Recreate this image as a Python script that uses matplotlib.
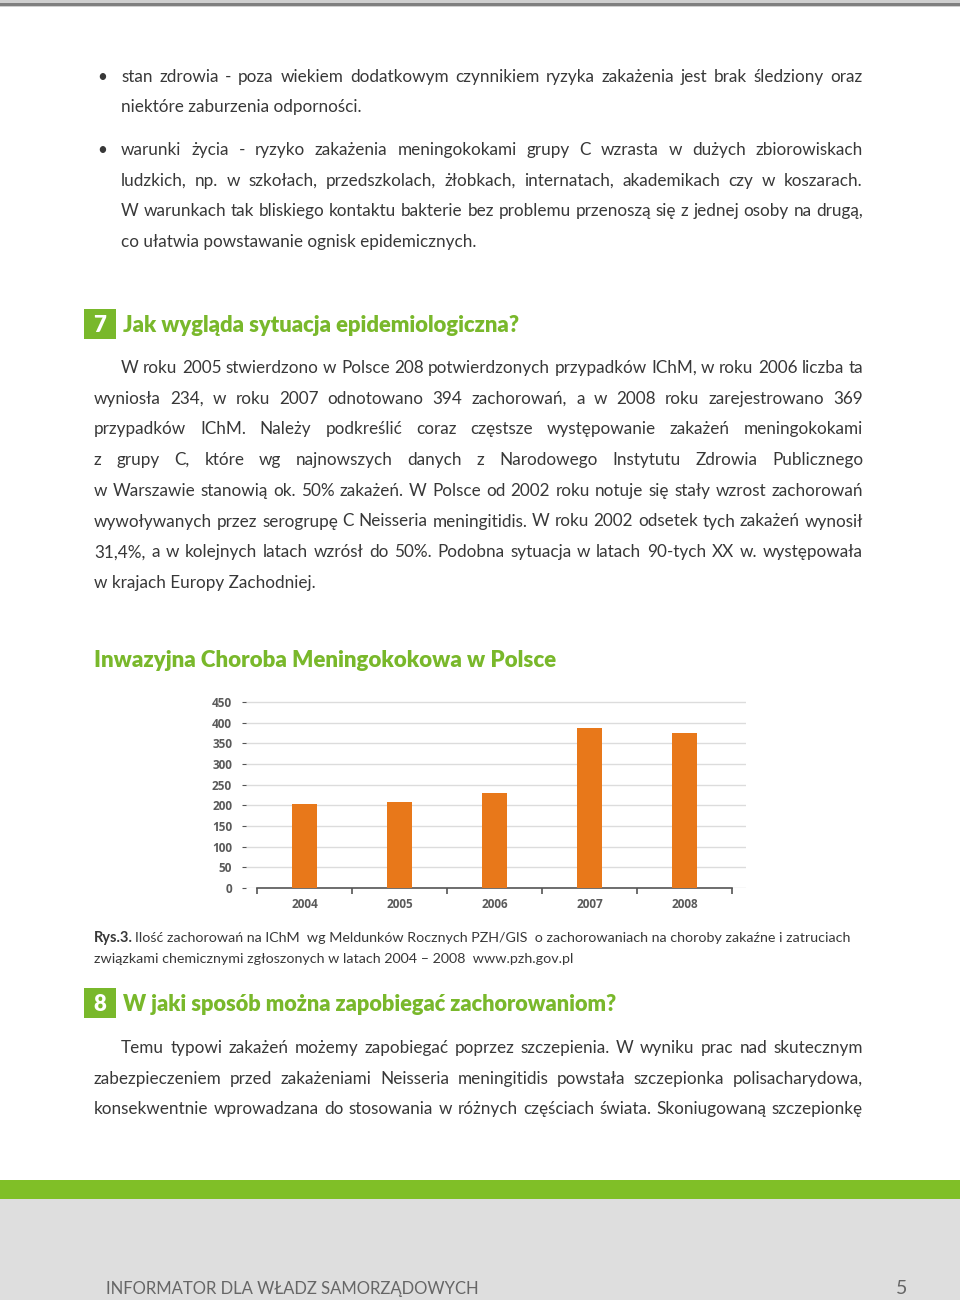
import matplotlib
matplotlib.use('Agg')
import matplotlib.pyplot as plt
from matplotlib.patches import Rectangle

W, H = 960, 1300

# chart data
years = ['2004', '2005', '2006', '2007', '2008']
cases = [204, 208, 230, 387, 376]
yticks = [0, 50, 100, 150, 200, 250, 300, 350, 400, 450]

# page texts
bullet1 = ['stan zdrowia - poza wiekiem dodatkowym czynnikiem ryzyka zakażenia jest brak śledziony oraz',
           'niektóre zaburzenia odporności.']
bullet2 = ['warunki życia - ryzyko zakażenia meningokokami grupy C wzrasta w dużych zbiorowiskach',
           'ludzkich, np. w szkołach, przedszkolach, żłobkach, internatach, akademikach czy w koszarach.',
           'W warunkach tak bliskiego kontaktu bakterie bez problemu przenoszą się z jednej osoby na drugą,',
           'co ułatwia powstawanie ognisk epidemicznych.']
heading7 = 'Jak wygląda sytuacja epidemiologiczna?'
para7 = ['W roku 2005 stwierdzono w Polsce 208 potwierdzonych przypadków IChM, w roku 2006 liczba ta',
         'wyniosła 234, w roku 2007 odnotowano 394 zachorowań, a w 2008 roku zarejestrowano 369',
         'przypadków IChM. Należy podkreślić coraz częstsze występowanie zakażeń meningokokami',
         'z grupy C, które wg najnowszych danych z Narodowego Instytutu Zdrowia Publicznego',
         'w Warszawie stanowią ok. 50% zakażeń. W Polsce od 2002 roku notuje się stały wzrost zachorowań',
         'wywoływanych przez serogrupę C Neisseria meningitidis. W roku 2002 odsetek tych zakażeń wynosił',
         '31,4%, a w kolejnych latach wzrósł do 50%. Podobna sytuacja w latach 90-tych XX w. występowała',
         'w krajach Europy Zachodniej.']
chart_title = 'Inwazyjna Choroba Meningokokowa w Polsce'
caption = ['Ilość zachorowań na IChM  wg Meldunków Rocznych PZH/GIS  o zachorowaniach na choroby zakaźne i zatruciach',
           'związkami chemicznymi zgłoszonych w latach 2004 – 2008  www.pzh.gov.pl']
heading8 = 'W jaki sposób można zapobiegać zachorowaniom?'
para8 = ['Temu typowi zakażeń możemy zapobiegać poprzez szczepienia. W wyniku prac nad skutecznym',
         'zabezpieczeniem przed zakażeniami Neisseria meningitidis powstała szczepionka polisacharydowa,',
         'konsekwentnie wprowadzana do stosowania w różnych częściach świata. Skoniugowaną szczepionkę']
footer = 'INFORMATOR DLA WŁADZ SAMORZĄDOWYCH'

plt.rcParams['font.family'] = ['Lato', 'DejaVu Sans']

TXT = '#383838'
GREEN = '#79b82b'
ORANGE = '#e8781a'
BODY = 12.3

fig = plt.figure(figsize=(9.6, 13), dpi=100)
r = fig.canvas.get_renderer()


def fy(y):
    return 1 - y / H


def width(t):
    return t.get_window_extent(r).width


def put(x, y, s, size, **kw):
    kw.setdefault('color', TXT)
    return fig.text(x / W, fy(y), s, fontsize=size, va='baseline', **kw)


def fitted(x0, x1, y, s, size, **kw):
    t = put(x0, y, s, size, **kw)
    t.set_fontsize(size * (x1 - x0) / width(t))
    return t


def justify(x0, x1, y, s, size=BODY, mingap=3.0, **kw):
    # last line of a paragraph: no stretching
    if x1 is None:
        return put(x0, y, s, size, **kw)
    words = s.split()
    ts = [put(0, y, w, size, **kw) for w in words]
    ws = [width(t) for t in ts]
    n = len(words) - 1
    gap = (x1 - x0 - sum(ws)) / n
    if gap < mingap:
        k = (x1 - x0 - n * mingap) / sum(ws)
        for t in ts:
            t.set_fontsize(size * k)
        ws = [width(t) for t in ts]
        gap = (x1 - x0 - sum(ws)) / n
    x = x0
    for t, w in zip(ts, ws):
        t.set_x(x / W)
        x += w + gap


def rect(x0, y0, x1, y1, color):
    fig.patches.append(Rectangle((x0 / W, fy(y1)), (x1 - x0) / W, (y1 - y0) / H,
                                 transform=fig.transFigure, color=color, lw=0))


# top rule
rect(0, 0, W, 7, '#cfcfcf')
rect(0, 3, W, 6, '#7f7f7f')

# bullets
put(97, 82, '•', BODY)
justify(121, 863, 82, bullet1[0])
justify(121, None, 112, bullet1[1])
put(97, 155, '•', BODY)
ends = [863, 862, 863, None]
for i, (line, e) in enumerate(zip(bullet2, ends)):
    justify(121, e, 155 + i * 30.7, line)

# section 7
rect(84, 309, 116, 339, GREEN)
put(100, 332, '7', 16, color='white', weight='heavy', ha='center')
fitted(123, 521, 332, heading7, 17, color=GREEN, weight='heavy')
ends = [863] * 7 + [None]
for i, (line, e) in enumerate(zip(para7, ends)):
    justify(121 if i == 0 else 94, e, 373 + i * 30.7, line)

# chart
fitted(94, 558, 667, chart_title, 15, color=GREEN, weight='heavy')

ax = fig.add_axes([246 / W, fy(888), 500 / W, (888 - 700) / H])
x = list(range(len(years)))
ax.bar(x, cases, width=0.27, color=ORANGE, zorder=3)
ax.set_xlim(-0.616, 4.647)
ax.set_ylim(0, 455)
ax.set_yticks(yticks)
ax.yaxis.grid(True, color='#dcdcdc', lw=1)
ax.set_axisbelow(True)
for s in ['top', 'right', 'left']:
    ax.spines[s].set_visible(False)
ax.spines['bottom'].set_bounds(-0.5, 4.5)
ax.spines['bottom'].set_color('#555555')
ax.spines['bottom'].set_linewidth(1.2)
ax.set_xticks(x, years)
ax.set_xticks([i - 0.5 for i in range(len(years) + 1)], minor=True)
ax.tick_params(axis='x', which='major', length=0, pad=7)
ax.tick_params(axis='x', which='minor', length=4, color='#555555', width=1.2)
ax.tick_params(axis='y', length=3, color='#555555', pad=7)
for lab in ax.get_xticklabels() + ax.get_yticklabels():
    lab.set_family(['Open Sans', 'DejaVu Sans'])
    lab.set_fontweight('bold')
    lab.set_fontsize(8.5)
    lab.set_color('#5a5a5a')

# caption
t = put(94, 942, 'Rys.3.', 10.5, weight='bold')
x0 = 94 + width(t) + 2
fitted(x0, 857, 942, caption[0], 10.5)
fitted(94, 577, 963, caption[1], 10.5)

# section 8
rect(84, 988, 116, 1018, GREEN)
put(100, 1011, '8', 16, color='white', weight='heavy', ha='center')
fitted(123, 619, 1011, heading8, 17, color=GREEN, weight='heavy')
for i, line in enumerate(para8):
    justify(121 if i == 0 else 94, 863, 1053 + i * 30.7, line)

# footer
rect(0, 1180, W, 1199, '#80bf27')
rect(0, 1199, W, H, '#dedede')
fitted(106, 481, 1294, footer, 14, color='#666666')
put(896, 1294, '5', 14, color='#666666')

fig.savefig('out.png', dpi=100, facecolor='white')
